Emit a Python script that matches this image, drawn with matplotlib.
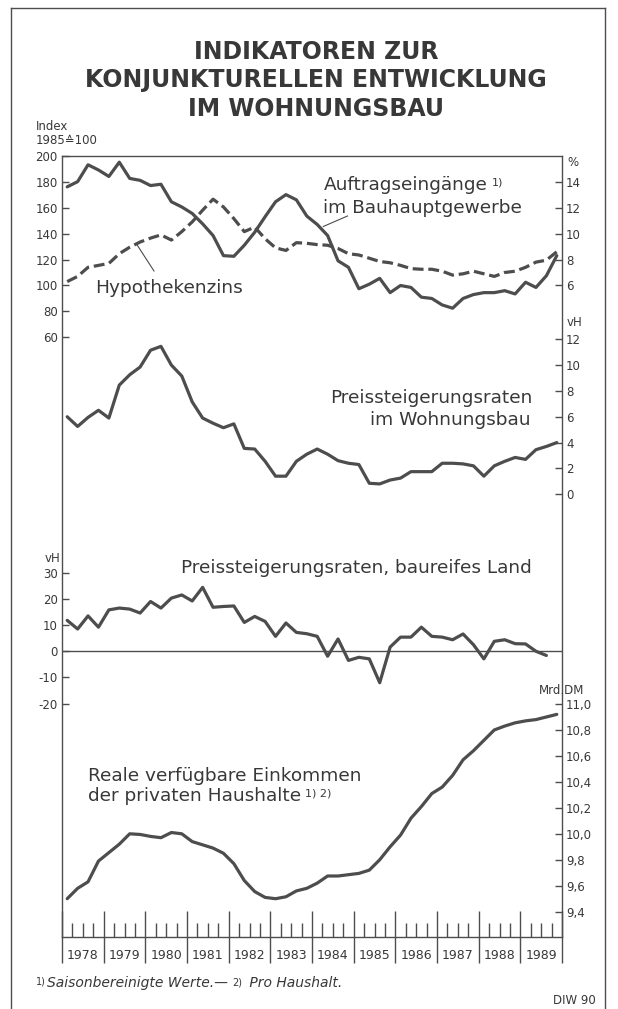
import matplotlib
matplotlib.use('Agg')
import matplotlib.pyplot as plt
import numpy as np
from matplotlib.lines import Line2D
from matplotlib import font_manager

W, H, DPI = 618, 1009, 100

# ---------------- data (quarterly, 1978 Q1 - 1989 Q4) ----------------
years = list(range(1978, 1990))

auftrag = [176, 180, 193, 189, 184, 195, 182.5, 181, 177, 178, 164.5, 160.5,
           155.5, 147.5, 138.5, 123, 122.5, 131, 141, 153, 164.5, 170, 166, 153.5,
           147, 138.5, 119, 114, 97.5, 101, 105.5, 94.5, 100, 98.5, 91, 90,
           85, 82.5, 90, 93, 94.5, 94.5, 96, 93.5, 102.5, 98.5, 107.5, 123]

hypo = [6.3, 6.7, 7.4, 7.55, 7.7, 8.45, 8.95, 9.35, 9.65, 9.9, 9.5, 10.15,
        10.9, 11.8, 12.65, 12.05, 11.15, 10.15, 10.5, 9.6, 8.9, 8.7, 9.3, 9.25,
        9.15, 9.1, 8.85, 8.45, 8.35, 8.1, 7.85, 7.75, 7.55, 7.3, 7.25, 7.25,
        7.1, 6.8, 6.9, 7.1, 6.9, 6.7, 7.0, 7.1, 7.4, 7.8, 7.95, 8.6]

wohn = [6.0, 5.25, 5.95, 6.5, 5.9, 8.45, 9.25, 9.85, 11.15, 11.45, 10.0, 9.15,
        7.15, 5.9, 5.5, 5.15, 5.45, 3.55, 3.5, 2.55, 1.4, 1.4, 2.55, 3.1,
        3.5, 3.1, 2.6, 2.4, 2.3, 0.85, 0.8, 1.1, 1.25, 1.75, 1.75, 1.75,
        2.4, 2.4, 2.35, 2.2, 1.4, 2.2, 2.55, 2.85, 2.7, 3.45, 3.7, 4.0]

land = [11.8, 8.5, 13.5, 9.2, 15.8, 16.5, 16.1, 14.6, 19.0, 16.5, 20.3, 21.5,
        19.2, 24.4, 16.8, 17.1, 17.3, 11.0, 13.3, 11.4, 5.7, 10.8, 7.2, 6.7,
        5.7, -1.9, 4.7, -3.5, -2.3, -2.9, -12.0, 1.6, 5.4, 5.4, 9.2, 5.7,
        5.4, 4.4, 6.6, 2.5, -2.9, 3.8, 4.4, 2.9, 2.8, 0.0, -1.6, np.nan]

income = [9.50, 9.58, 9.63, 9.79, 9.855, 9.92, 10.0, 9.995, 9.98, 9.97, 10.01, 10.0,
          9.94, 9.915, 9.89, 9.85, 9.77, 9.64, 9.555, 9.51, 9.50, 9.515, 9.56, 9.58,
          9.62, 9.675, 9.675, 9.685, 9.695, 9.72, 9.80, 9.90, 9.99, 10.12, 10.21, 10.31,
          10.36, 10.45, 10.57, 10.64, 10.72, 10.80, 10.83, 10.855, 10.87, 10.88, 10.90, 10.92]

index_ticks = [60, 80, 100, 120, 140, 160, 180, 200]
pct_ticks = [6, 8, 10, 12, 14]
wohn_ticks = [0, 2, 4, 6, 8, 10, 12]
land_ticks = [-20, -10, 0, 10, 20, 30]
income_ticks = [9.4, 9.6, 9.8, 10.0, 10.2, 10.4, 10.6, 10.8, 11.0]

# ---------------- styling ----------------
INK = '#4d4d4d'
TXT = '#383838'
LW = 2.3
plt.rcParams['font.family'] = ['DejaVu Sans']

installed = {f.name for f in font_manager.fontManager.ttflist}
NARROW = None
for cand in ('Liberation Sans Narrow', 'DejaVu Sans Condensed'):
    if cand in installed:
        NARROW = cand
        break
YEAR_FONT = dict(family=NARROW, size=12) if NARROW == 'Liberation Sans Narrow' else \
    (dict(family=NARROW, size=10) if NARROW else dict(family='DejaVu Sans', size=9))

fig = plt.figure(figsize=(W / DPI, H / DPI), dpi=DPI)
fig.patch.set_facecolor('white')


def fx(px):
    return px / W


def fy(py):
    return 1 - py / H


AX_L, AX_R, AX_T, AX_B = 62, 562, 155.7, 937.3
ax = fig.add_axes([fx(AX_L), fy(AX_B), (AX_R - AX_L) / W, (AX_B - AX_T) / H])
ax.patch.set_visible(False)
ax_p = ax.twinx()
ax_w = ax.twinx()
ax_l = ax.twinx()
ax_i = ax.twinx()

n = len(auftrag)
t = 1978 + (np.arange(n) + 0.5) / 4

for a in (ax, ax_p, ax_w, ax_l, ax_i):
    a.set_xlim(years[0], years[-1] + 1)

ax.set_ylim(-402.2, 200)
ax_p.set_ylim(-44.22, 16)
ax_w.set_ylim(-34.30, 26.21)
ax_l.set_ylim(-109.2, 189.2)
ax_i.set_ylim(9.2027, 15.224)

# spines
for s in ax.spines.values():
    s.set_color(INK)
    s.set_linewidth(1.0)
for a in (ax_p, ax_w, ax_l, ax_i):
    for s in a.spines.values():
        s.set_visible(False)

# series
ax.plot(t, auftrag, color=INK, lw=LW, solid_joinstyle='round', solid_capstyle='round')
ax_p.plot(t, hypo, color=INK, lw=LW, dashes=(3.4, 1.5), dash_capstyle='butt')
ax_w.plot(t, wohn, color=INK, lw=LW, solid_joinstyle='round', solid_capstyle='round')
ax_l.axhline(0, color=INK, lw=1.0)
ax_l.plot(t, land, color=INK, lw=LW, solid_joinstyle='round', solid_capstyle='round')
ax_i.plot(t, income, color=INK, lw=LW, solid_joinstyle='round', solid_capstyle='round')

# y ticks
tp = dict(direction='in', length=5, width=1.0, pad=3, labelsize=8.5,
          labelcolor=TXT, color=INK)
ax.set_yticks(index_ticks)
ax.set_yticklabels([str(v) for v in index_ticks])
ax.tick_params(axis='y', left=True, right=False, labelleft=True, labelright=False, **tp)

ax_p.set_yticks(pct_ticks)
ax_p.set_yticklabels([str(v) for v in pct_ticks])
ax_p.tick_params(axis='y', left=False, right=True, labelleft=False, labelright=True, **tp)

ax_w.set_yticks(wohn_ticks)
ax_w.set_yticklabels([str(v) for v in wohn_ticks])
ax_w.tick_params(axis='y', left=False, right=True, labelleft=False, labelright=True, **tp)

ax_l.yaxis.tick_left()
ax_l.set_yticks(land_ticks)
ax_l.set_yticklabels([str(v) for v in land_ticks])
ax_l.tick_params(axis='y', left=True, right=False, labelleft=True, labelright=False, **tp)

ax_i.set_yticks(income_ticks)
ax_i.set_yticklabels([f'{v:.1f}'.replace('.', ',') for v in income_ticks])
ax_i.tick_params(axis='y', left=False, right=True, labelleft=False, labelright=True, **tp)

# x ticks: long year separators, short quarter ticks, year labels
bounds = years + [years[-1] + 1]
ax.set_xticks(bounds)
ax.set_xticklabels([''] * len(bounds))
qpos, qlab = [], []
for y in years:
    for q, lab in ((0.25, ''), (0.5, str(y)), (0.75, '')):
        qpos.append(y + q)
        qlab.append(lab)
ax.set_xticks(qpos, minor=True)
ax.set_xticklabels(qlab, minor=True, fontdict=dict(family=YEAR_FONT['family'],
                                                   size=YEAR_FONT['size']))
ax.tick_params(axis='x', which='major', direction='inout', length=37.5, width=1.0,
               color=INK, top=False, bottom=True)
ax.tick_params(axis='x', which='minor', direction='in', length=10, width=1.0,
               color=INK, pad=8.5, labelcolor=TXT, top=False, bottom=True)

# ---------------- texts ----------------
TT = dict(ha='center', va='baseline', fontsize=17, fontweight='bold', color=TXT)
fig.text(fx(316), fy(59), 'INDIKATOREN ZUR', **TT)
fig.text(fx(316), fy(87), 'KONJUNKTURELLEN ENTWICKLUNG', **TT)
fig.text(fx(316), fy(116), 'IM WOHNUNGSBAU', **TT)

fig.text(fx(36), fy(127), 'Index', ha='left', va='center', fontsize=8.5, color=TXT)
fig.text(fx(36), fy(140), '1985\u2259100', ha='left', va='center', fontsize=8.5, color=TXT)
fig.text(fx(567), fy(163), '%', ha='left', va='center', fontsize=8.5, color=TXT)
fig.text(fx(567), fy(323), 'vH', ha='left', va='center', fontsize=8.5, color=TXT)
fig.text(fx(60), fy(558), 'vH', ha='right', va='center', fontsize=8.5, color=TXT)
fig.text(fx(562), fy(690), 'Mrd.DM', ha='center', va='center', fontsize=8.5, color=TXT)

LBL = dict(fontsize=13.3, color=TXT)
t1 = fig.text(fx(324), fy(190), 'Auftragseingänge', ha='left', va='baseline', **LBL)
fig.text(fx(323), fy(212.7), 'im Bauhauptgewerbe', ha='left', va='baseline', **LBL)
fig.text(fx(95), fy(293), 'Hypothekenzins', ha='left', va='baseline', **LBL)
fig.text(fx(532), fy(402.7), 'Preissteigerungsraten', ha='right', va='baseline', **LBL)
fig.text(fx(531), fy(425), 'im Wohnungsbau', ha='right', va='baseline', **LBL)
fig.text(fx(532), fy(572.7), 'Preissteigerungsraten, baureifes Land', ha='right',
         va='baseline', **LBL)
fig.text(fx(88), fy(780.7), 'Reale verfügbare Einkommen', ha='left', va='baseline', **LBL)
t2 = fig.text(fx(88), fy(800.7), 'der privaten Haushalte', ha='left', va='baseline', **LBL)

fig.canvas.draw()
ax.annotate('1)', xy=(1, 1), xycoords=t1, xytext=(3, -1), textcoords='offset points',
            ha='left', va='top', fontsize=8, color=TXT, annotation_clip=False)
ax.annotate('1) 2)', xy=(1, 1), xycoords=t2, xytext=(3, -1), textcoords='offset points',
            ha='left', va='top', fontsize=8, color=TXT, annotation_clip=False)

# leader lines
for (x0, y0, x1, y1) in ((347.5, 216, 323.3, 226.5), (154, 271, 136.5, 244)):
    fig.add_artist(Line2D([fx(x0), fx(x1)], [fy(y0), fy(y1)], transform=fig.transFigure,
                          color=INK, lw=0.8))

# footnote
f1 = fig.text(fx(36), fy(985), '1)', ha='left', va='baseline', fontsize=7, color=TXT)
f2 = ax.annotate('Saisonbereinigte Werte.\u2014 ', xy=(1, 0), xycoords=f1, xytext=(1, -2.5),
                 textcoords='offset points', ha='left', va='bottom', fontsize=10,
                 style='italic', color=TXT, annotation_clip=False)
f3 = ax.annotate('2)', xy=(1, 1), xycoords=f2, xytext=(0, -1),
                 textcoords='offset points', ha='left', va='top', fontsize=7,
                 color=TXT, annotation_clip=False)
ax.annotate(' Pro Haushalt.', xy=(1, 0), xycoords=f2, xytext=(9, 0),
            textcoords='offset points', ha='left', va='bottom', fontsize=10,
            style='italic', color=TXT, annotation_clip=False)
fig.text(fx(596), fy(1001), 'DIW 90', ha='right', va='center', fontsize=8.5, color=TXT)

# outer frame
for xs, ys in (([11, 11], [8, 1009]), ([605, 605], [8, 1009]), ([11, 605], [8, 8])):
    fig.add_artist(Line2D([fx(v) for v in xs], [fy(v) for v in ys],
                          transform=fig.transFigure, color=INK, lw=1.0))

fig.savefig('out.png', dpi=DPI, facecolor='white')
